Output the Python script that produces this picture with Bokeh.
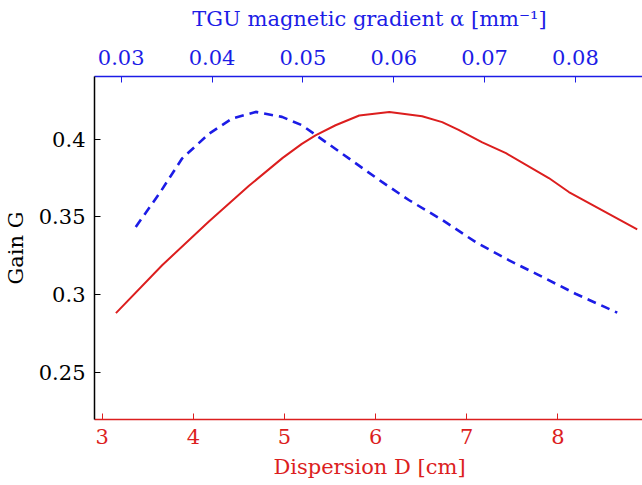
from bokeh.plotting import figure
from bokeh.models import LinearAxis, Range1d, FixedTicker, NumeralTickFormatter
from bokeh.embed import file_html
from bokeh.resources import INLINE

# Gain vs dispersion (red, bottom axis)
dispersion_cm = [3.15, 3.66, 4.17, 4.61, 4.98, 5.19, 5.34, 5.56, 5.82, 6.15, 6.51, 6.73, 6.91, 7.17, 7.43, 7.90, 8.12, 8.87]
gain_vs_D = [0.288, 0.319, 0.347, 0.370, 0.388, 0.397, 0.4025, 0.409, 0.4153, 0.4176, 0.4148, 0.411, 0.406, 0.398, 0.391, 0.375, 0.366, 0.342]

# Gain vs TGU gradient (blue dashed, top axis)
alpha_mm = [0.0316, 0.0342, 0.0367, 0.0397, 0.0422, 0.0448, 0.0477, 0.0499, 0.0543, 0.0587, 0.0617,
            0.0654, 0.0690, 0.0727, 0.0764, 0.0800, 0.0846]
gain_vs_alpha = [0.3435, 0.365, 0.3876, 0.4037, 0.4133, 0.4176, 0.4144, 0.409, 0.3908, 0.3725, 0.3607,
                 0.3478, 0.3338, 0.322, 0.3112, 0.3005, 0.2883]

D_ticks = [3, 4, 5, 6, 7, 8]
alpha_ticks = [0.03, 0.04, 0.05, 0.06, 0.07, 0.08]
G_ticks = [0.25, 0.3, 0.35, 0.4]

RED = "#dc1e1e"
BLUE = "#1c1ce6"
FONT = "DejaVu Serif"

p = figure(width=642, height=479, frame_width=550, frame_height=343,
           min_border_left=92, min_border_right=0, min_border_top=76, min_border_bottom=60,
           x_range=Range1d(2.915, 8.95), y_range=Range1d(0.2195, 0.4404),
           output_backend="svg", toolbar_location=None)
p.extra_x_ranges = {"alpha": Range1d(0.02706, 0.0876)}
p.outline_line_color = None
p.xgrid.visible = False
p.ygrid.visible = False

p.line(dispersion_cm, gain_vs_D, line_color=RED, line_width=2)
p.line(alpha_mm, gain_vs_alpha, line_color=BLUE, line_width=2.6, line_dash="9 6", x_range_name="alpha")

top = LinearAxis(x_range_name="alpha")
p.add_layout(top, "above")

def style(ax, color, ticks, fmt, label_standoff=9, title_standoff=8):
    ax.ticker = FixedTicker(ticks=ticks)
    ax.formatter = NumeralTickFormatter(format=fmt)
    ax.axis_line_color = color
    ax.axis_line_width = 1.5
    ax.major_tick_line_color = color
    ax.major_tick_in = 6
    ax.major_tick_out = 0
    ax.minor_tick_line_color = None
    ax.major_label_text_color = color
    ax.major_label_text_font = FONT
    ax.major_label_text_font_size = "21px"
    ax.major_label_standoff = label_standoff
    ax.axis_label_text_color = color
    ax.axis_label_text_font = FONT
    ax.axis_label_text_font_size = "21px"
    ax.axis_label_text_font_style = "normal"
    ax.axis_label_standoff = title_standoff

for ax in p.xaxis:
    if ax is top:
        style(ax, BLUE, alpha_ticks, "0.00", label_standoff=12, title_standoff=16)
        ax.axis_label = "TGU magnetic gradient α [mm⁻¹]"
    else:
        style(ax, RED, D_ticks, "0")
        ax.axis_label = "Dispersion D [cm]"

ya = p.yaxis[0]
style(ya, "black", G_ticks, "0.[00]")
ya.axis_label = "Gain G"

open("out.html", "w").write(file_html(p, INLINE))
